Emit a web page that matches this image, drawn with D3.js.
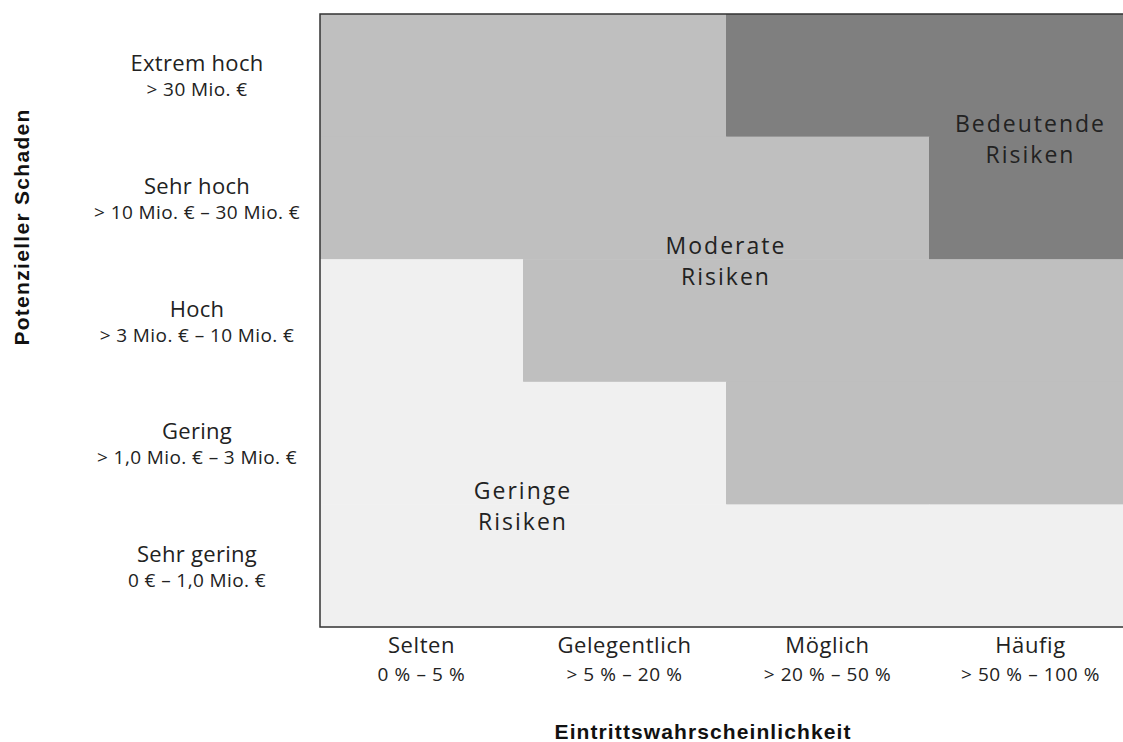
<!DOCTYPE html>
<html>
<head>
<meta charset="utf-8">
<script src="https://cdn.jsdelivr.net/npm/d3@7"></script>
<style>
  body { margin: 0; background: #fff; }
  svg { display: block; }
</style>
</head>
<body>
<div id="chart"></div>
<script>
// categories
const probNames = ["Selten", "Gelegentlich", "Möglich", "Häufig"];
const probRanges = ["0 % – 5 %", "> 5 % – 20 %", "> 20 % – 50 %", "> 50 % – 100 %"];
const damageNames = ["Extrem hoch", "Sehr hoch", "Hoch", "Gering", "Sehr gering"];
const damageRanges = ["> 30 Mio. €", "> 10 Mio. € – 30 Mio. €", "> 3 Mio. € – 10 Mio. €", "> 1,0 Mio. € – 3 Mio. €", "0 € – 1,0 Mio. €"];

// risk level per cell, row = damage (top to bottom), col = probability
const riskLevels = [
  [1, 1, 2, 2],
  [1, 1, 1, 2],
  [0, 1, 1, 1],
  [0, 0, 1, 1],
  [0, 0, 0, 0]
];
const levelColors = ["#f0f0f0", "#bfbfbf", "#7f7f7f"];

// zone labels, anchored at a column position (may be half-way) and a row edge
const zoneText = [["Bedeutende", "Risiken"], ["Moderate", "Risiken"], ["Geringe", "Risiken"]];
const zoneCol = [3.5, 2, 1];
const zoneRow = [1, 2, 4];

const width = 1123, height = 742;
const mLeft = 320, mTop = 14, plotW = 812, plotH = 613;

const svg = d3.select("#chart").append("svg")
    .attr("width", width)
    .attr("height", height);

const x = d3.scaleBand().domain(d3.range(4)).range([mLeft, mLeft + plotW]);
const y = d3.scaleBand().domain(d3.range(5)).range([mTop, mTop + plotH]);
const xPos = v => mLeft + v * x.step();   // continuous column position

const cells = [];
riskLevels.forEach((row, r) => row.forEach((lvl, c) => cells.push({ r, c, lvl })));

svg.append("g")
  .selectAll("rect")
  .data(cells)
  .enter()
  .append("rect")
  .attr("x", d => x(d.c))
  .attr("y", d => y(d.r))
  .attr("width", x.bandwidth() + 0.5)
  .attr("height", y.bandwidth() + 0.5)
  .attr("fill", d => levelColors[d.lvl]);

// frame: left, top, bottom
svg.append("path")
  .attr("d", `M${mLeft + plotW},${mTop}H${mLeft}V${mTop + plotH}H${mLeft + plotW}`)
  .attr("fill", "none")
  .attr("stroke", "#333")
  .attr("stroke-width", 1.5);

// zone labels
svg.append("g")
  .selectAll("text")
  .data(d3.range(zoneText.length))
  .enter()
  .append("text")
  .attr("text-anchor", "middle")
  .style("font-family", "'Open Sans', sans-serif")
  .style("font-size", "23px")
  .style("letter-spacing", "2px")
  .attr("fill", "#222")
  .each(function (i) {
    const t = d3.select(this);
    zoneText[i].forEach((line, k) => {
      t.append("tspan")
        .attr("x", xPos(zoneCol[i]))
        .attr("y", y(zoneRow[i]) - 5 + k * 31)
        .text(line);
    });
  });

// y category labels
const yl = svg.append("g")
  .selectAll("g")
  .data(d3.range(5))
  .enter()
  .append("g")
  .attr("transform", d => `translate(197,${y(d) + y.bandwidth() / 2})`);

yl.append("text")
  .attr("text-anchor", "middle")
  .attr("y", -4)
  .style("font-family", "'Open Sans', sans-serif")
  .style("font-size", "22px")
  .style("letter-spacing", "0.3px")
  .attr("fill", "#222")
  .text(d => damageNames[d]);

yl.append("text")
  .attr("text-anchor", "middle")
  .attr("y", 21)
  .style("font-family", "'Open Sans', sans-serif")
  .style("font-size", "19px")
  .style("letter-spacing", "0.4px")
  .attr("fill", "#222")
  .text(d => damageRanges[d]);

// x category labels
const xl = svg.append("g")
  .selectAll("g")
  .data(d3.range(4))
  .enter()
  .append("g")
  .attr("transform", d => `translate(${Math.min(x(d) + x.bandwidth() / 2, 1031)},0)`);

xl.append("text")
  .attr("text-anchor", "middle")
  .attr("y", 653)
  .style("font-family", "'Open Sans', sans-serif")
  .style("font-size", "22px")
  .style("letter-spacing", "0.6px")
  .attr("fill", "#222")
  .text(d => probNames[d]);

xl.append("text")
  .attr("text-anchor", "middle")
  .attr("y", 681)
  .style("font-family", "'Open Sans', sans-serif")
  .style("font-size", "19px")
  .style("letter-spacing", "0.6px")
  .attr("fill", "#222")
  .text(d => probRanges[d]);

// axis titles
svg.append("text")
  .attr("x", 703)
  .attr("y", 739)
  .attr("text-anchor", "middle")
  .style("font-family", "'Liberation Sans', Arial, sans-serif")
  .style("font-weight", "bold")
  .style("font-size", "21px")
  .style("letter-spacing", "1.1px")
  .attr("fill", "#111")
  .text("Eintrittswahrscheinlichkeit");

svg.append("text")
  .attr("transform", "translate(29,227) rotate(-90)")
  .attr("text-anchor", "middle")
  .style("font-family", "'Liberation Sans', Arial, sans-serif")
  .style("font-weight", "bold")
  .style("font-size", "21px")
  .style("letter-spacing", "1.3px")
  .attr("fill", "#111")
  .text("Potenzieller Schaden");
</script>
</body>
</html>
